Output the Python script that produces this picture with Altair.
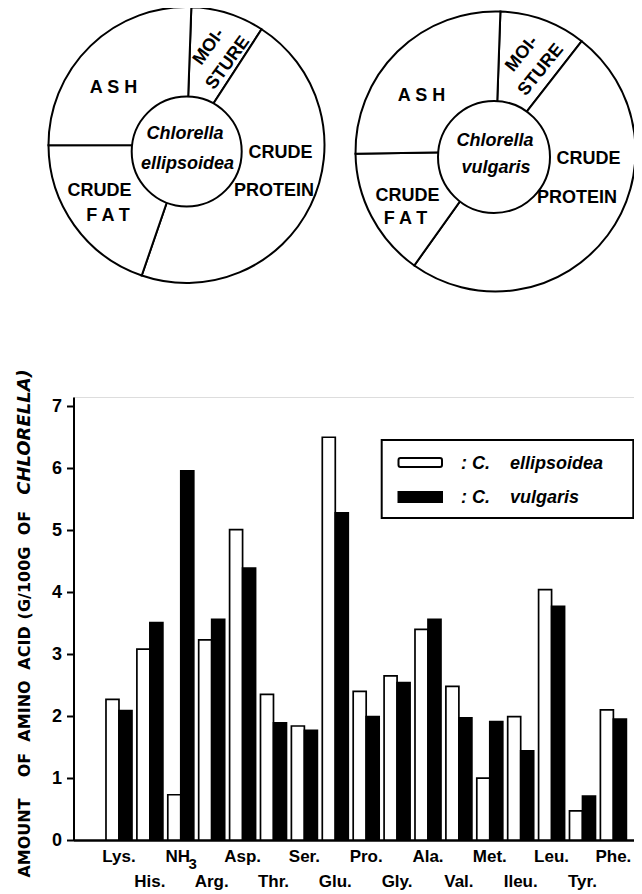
import math
import altair as alt
import pandas as pd

# ---------------- data ----------------
acids = ["Lys.", "His.", "NH3", "Arg.", "Asp.", "Thr.", "Ser.", "Glu.", "Pro.",
         "Gly.", "Ala.", "Val.", "Met.", "Ileu.", "Leu.", "Tyr.", "Phe."]
ellipsoidea = [2.27, 3.08, 0.73, 3.23, 5.01, 2.35, 1.84, 6.50, 2.40,
               2.65, 3.40, 2.48, 1.00, 1.99, 4.04, 0.47, 2.10]
vulgaris = [2.09, 3.51, 5.96, 3.56, 4.39, 1.89, 1.77, 5.28, 1.99,
            2.54, 3.56, 1.97, 1.91, 1.44, 3.77, 0.71, 1.95]
label_row = [1, 2, 1, 2, 1, 2, 1, 2, 1, 2, 1, 2, 1, 2, 1, 2, 1]
species = ["C. ellipsoidea", "C. vulgaris"]
y_ticks = [0, 1, 2, 3, 4, 5, 6, 7]

pie_parts = ["MOISTURE", "CRUDE PROTEIN", "CRUDE FAT", "ASH"]
pie_ellipsoidea = [8.6, 46.1, 19.7, 25.6]
pie_vulgaris = [10.0, 49.3, 14.9, 25.8]

FONT = "Liberation Sans"
TFONT = "DejaVu Sans"
NB = "\u00a0"

bars_df = pd.DataFrame({
    "acid": acids * 2,
    "species": [species[0]] * len(acids) + [species[1]] * len(acids),
    "amount": ellipsoidea + vulgaris,
})
lab_df = pd.DataFrame({"acid": acids, "row": label_row})
one = pd.DataFrame({"k": [0]})

x_enc = alt.X("acid:N", sort=acids,
              scale=alt.Scale(paddingInner=0.159, paddingOuter=0.649, align=0.81),
              axis=alt.Axis(labels=False, ticks=False, title=None, grid=False,
                            domainWidth=2.5, domainColor="black"))

bars = alt.Chart(bars_df).mark_bar(stroke="black", strokeWidth=1.7).encode(
    x=x_enc,
    xOffset=alt.XOffset("species:N", sort=species,
                        scale=alt.Scale(paddingInner=0, paddingOuter=0)),
    y=alt.Y("amount:Q", scale=alt.Scale(domain=[0, 7.15], nice=False, zero=True),
            axis=alt.Axis(values=y_ticks, title=None, grid=False, tickSize=7,
                          tickWidth=2, tickColor="black", domainWidth=2,
                          domainColor="black", labelFontSize=18,
                          labelFontWeight="bold", labelFont=FONT,
                          labelColor="black", labelPadding=5)),
    fill=alt.Fill("species:N", sort=species,
                  scale=alt.Scale(domain=species, range=["white", "black"]),
                  legend=None),
)

LAB = dict(font=FONT, fontWeight="bold", baseline="middle", color="black")
xlabs = []
for r, ypos in [(1, 460), (2, 485)]:
    xlabs.append(
        alt.Chart(lab_df).transform_filter(
            f"datum.row == {r} && datum.acid != 'NH3'").mark_text(
            fontSize=17, **LAB).encode(x=x_enc, y=alt.value(ypos), text="acid:N")
    )
# NH3 drawn with a lowered "3"
xlabs.append(
    alt.Chart(lab_df).transform_filter("datum.acid == 'NH3'").mark_text(
        fontSize=17, text="NH", dx=-3, **LAB).encode(x=x_enc, y=alt.value(460)))
xlabs.append(
    alt.Chart(lab_df).transform_filter("datum.acid == 'NH3'").mark_text(
        fontSize=15, text="3", dx=12, dy=7, **LAB).encode(x=x_enc, y=alt.value(460)))


def pie(values, cx, cy, r, start):
    df = pd.DataFrame({"part": pie_parts, "share": values,
                       "order": list(range(len(values)))})
    return alt.Chart(df).mark_arc(outerRadius=r, innerRadius=0, fill="white",
                                  stroke="black", strokeWidth=2).encode(
        theta=alt.Theta("share:Q", stack=True,
                        scale=alt.Scale(domain=[0, 100],
                                        range=[start, start + 2 * math.pi])),
        order=alt.Order("order:Q"),
        x=alt.value(cx), y=alt.value(cy),
    )


def circle(cx, cy, r):
    return alt.Chart(one).mark_point(shape="circle", size=(2 * r) ** 2,
                                     filled=True, fill="white", stroke="black",
                                     strokeWidth=2, opacity=1).encode(
        x=alt.value(cx), y=alt.value(cy))


def txt(t, x, y, size=18, style="normal", weight="bold", angle=0,
        align="center", font=FONT):
    return alt.Chart(one).mark_text(
        text=t, font=font, fontSize=size, fontStyle=style, fontWeight=weight,
        angle=angle, align=align, baseline="middle", color="black",
    ).encode(x=alt.value(x), y=alt.value(y))


pies = [
    alt.layer(pie(pie_ellipsoidea, 113, -252, 138, 0.035),
              pie(pie_vulgaris, 422, -245.5, 140, 0.035)),
    circle(113.2, -245.5, 55),
    circle(420.5, -240, 56),
]

pie_texts = [
    txt("A S H", 40, -309),
    txt("MOI-", 135.5, -350, angle=306),
    txt("STURE", 154.5, -334, angle=306),
    txt("CRUDE", 207, -244),
    txt("PROTEIN", 200.5, -206),
    txt("CRUDE", 26, -206),
    txt("F A T", 34.5, -181),
    txt("Chlorella", 111.5, -263, style="italic"),
    txt("ellipsoidea", 114, -233, style="italic"),
    txt("A S H", 348, -301),
    txt("MOI-", 448.5, -343, angle=309),
    txt("STURE", 467.5, -327, angle=309),
    txt("CRUDE", 515, -238),
    txt("PROTEIN", 503.5, -199.5),
    txt("CRUDE", 334, -201.5),
    txt("F A T", 332, -178),
    txt("Chlorella", 421.5, -256, style="italic"),
    txt("vulgaris", 422.5, -229, style="italic"),
]

legend = [
    alt.Chart(one).mark_rect(fill="white", stroke="black", strokeWidth=2).encode(
        x=alt.value(308.2), x2=alt.value(559.8), y=alt.value(43), y2=alt.value(121)),
    alt.Chart(one).mark_rect(fill="white", stroke="black", strokeWidth=2,
                             cornerRadius=2).encode(
        x=alt.value(325), x2=alt.value(368.5), y=alt.value(61), y2=alt.value(70)),
    alt.Chart(one).mark_rect(fill="black", stroke="black", strokeWidth=2).encode(
        x=alt.value(325), x2=alt.value(368.5), y=alt.value(95), y2=alt.value(105)),
    txt(":" + NB + "C." + NB * 4 + "ellipsoidea", 387.5, 67,
        style="italic", align="left"),
    txt(":" + NB + "C." + NB * 4 + "vulgaris", 387.5, 101,
        style="italic", align="left"),
]

# y-axis title, word by word (page y centres - 397)
title_words = ["AMOUNT", "OF", "AMINO", "ACID", "(G/100G", "OF"]
title_y = [441, 368, 314, 251, 186, 126]
ytitle = [txt(w, -48.5, yy, size=16, angle=270, font=TFONT)
          for w, yy in zip(title_words, title_y)]
ytitle.append(txt("CHLORELLA)", -48.5, 35, size=18, style="italic", angle=270,
                  font=TFONT))

chart = alt.layer(*pies, *pie_texts, bars, *xlabs, *legend, *ytitle).properties(
    width=560.5, height=443,
    padding={"left": 65.5, "top": 389, "right": 0, "bottom": 52},
    autosize=alt.AutoSizeParams(type="none"),
).configure_view(stroke=None).configure(font=FONT)

chart.save("out.html", embed_options={"renderer": "svg", "actions": False})
